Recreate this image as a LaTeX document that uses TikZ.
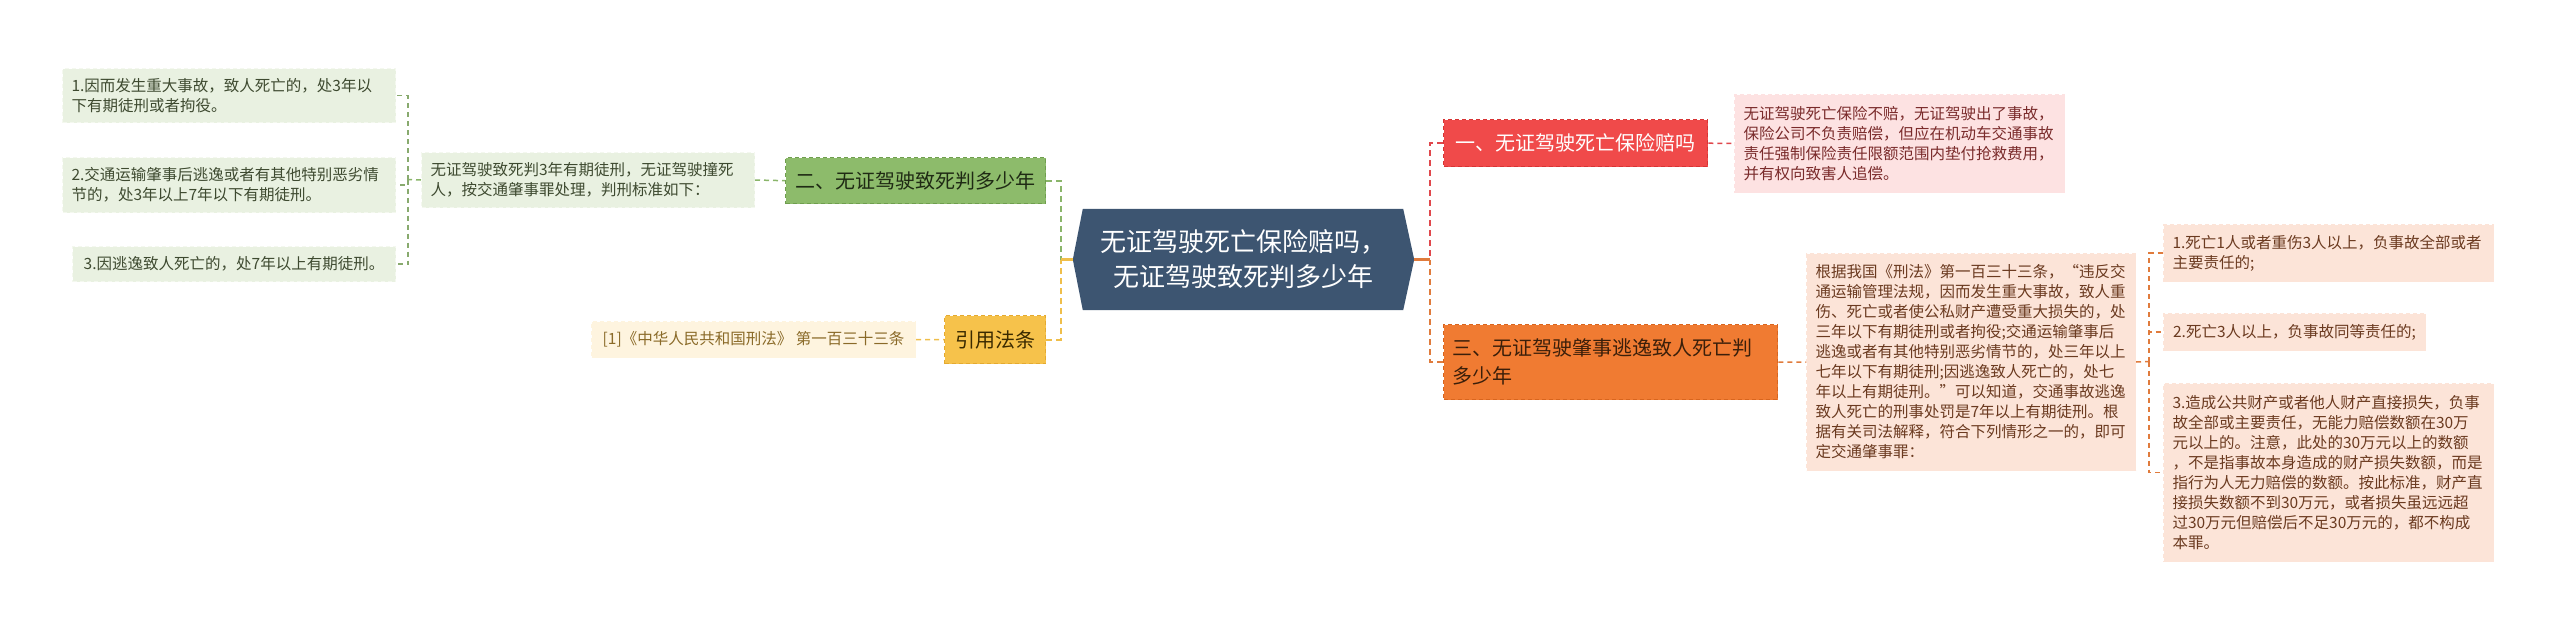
\documentclass[tikz,border=0pt]{standalone}
\usepackage{fontspec}
\setmainfont{Noto Sans CJK SC}
\usetikzlibrary{positioning, backgrounds}
\definecolor{rootbg}{HTML}{3D5571}
\definecolor{gleafbg}{HTML}{E9F1E1}
\definecolor{gleafbd}{HTML}{F4F8EF}
\definecolor{gleaftx}{HTML}{3E4A30}
\definecolor{gnodebg}{HTML}{8DBB6B}
\definecolor{gnodebd}{HTML}{6F9E4E}
\definecolor{gnodetx}{HTML}{1F2A14}
\definecolor{glinec}{HTML}{8AB56A}
\definecolor{ynodebg}{HTML}{F6C24B}
\definecolor{ynodebd}{HTML}{E4AA30}
\definecolor{ynodetx}{HTML}{3A2A00}
\definecolor{yleafbg}{HTML}{FEF4DF}
\definecolor{yleaftx}{HTML}{8A6A28}
\definecolor{ylinec}{HTML}{EFBE4A}
\definecolor{rnodebg}{HTML}{F04A4A}
\definecolor{rnodebd}{HTML}{D83434}
\definecolor{rleafbg}{HTML}{FDE2E2}
\definecolor{rleaftx}{HTML}{7A2B2B}
\definecolor{rlinec}{HTML}{E0474C}
\definecolor{onodebg}{HTML}{F07B32}
\definecolor{onodebd}{HTML}{D8651E}
\definecolor{onodetx}{HTML}{3B1F0A}
\definecolor{oleafbg}{HTML}{FCE4D8}
\definecolor{oleaftx}{HTML}{6B3A20}
\definecolor{olinec}{HTML}{E07B3C}

\begin{document}
\begin{tikzpicture}[x=1pt, y=-1pt,
  box/.style={anchor=north west, inner xsep=9pt, inner ysep=0pt, dash pattern=on 4pt off 3pt, line width=1pt},
  leaf/.style={box, align=left, font=\fontsize{15.5}{20}\selectfont},
  branch/.style={box, align=left, font=\fontsize{20}{28}\selectfont, line width=1.4pt},
  root/.style={minimum width=341pt, minimum height=101pt, inner sep=0pt, align=center, text=white, font=\fontsize{26}{35}\selectfont},
  gleaf/.style={leaf, fill=gleafbg, draw=gleafbd, text=gleaftx},
  gnode/.style={branch, fill=gnodebg, draw=gnodebd, text=gnodetx},
  yleaf/.style={leaf, fill=yleafbg, draw=yleafbg, text=yleaftx},
  ynode/.style={branch, fill=ynodebg, draw=ynodebd, text=ynodetx},
  rleaf/.style={leaf, fill=rleafbg, draw=rleafbg, text=rleaftx},
  rnode/.style={branch, fill=rnodebg, draw=rnodebd, text=white},
  oleaf/.style={leaf, fill=oleafbg, draw=oleafbg, text=oleaftx},
  onode/.style={branch, fill=onodebg, draw=onodebd, text=onodetx},
  trunk/.style={line width=2.4pt, dash pattern=on 6pt off 4pt},
  twig/.style={line width=1.5pt, dash pattern=on 5pt off 4pt}]
\useasboundingbox (0,0) rectangle (2560,627);
% centre
\node[root] (root) at (1243.5,259.5) {无证驾驶死亡保险赔吗，\\无证驾驶致死判多少年};
\begin{scope}[on background layer]
\fill[rootbg] ([xshift=10pt]root.north west) -- ([xshift=-11pt]root.north east) -- (root.east)
  -- ([xshift=-11pt]root.south east) -- ([xshift=10pt]root.south west) -- (root.west) -- cycle;
\end{scope}
\coordinate (lj) at (1061,259.5);
\coordinate (rj) at (1430,259.5);
% left: 二 and 引用法条
\node[gnode, minimum width=260pt, minimum height=46pt, align=center] (g) at (785,157) {二、无证驾驶致死判多少年};
\node[gleaf, text width=315pt, minimum height=55pt] (gtext) at (421,152) {无证驾驶致死判3年有期徒刑，无证驾驶撞死\\人，按交通肇事罪处理，判刑标准如下：};
\node[gleaf, text width=315pt, minimum height=54pt] (g1) at (62,68) {1.因而发生重大事故，致人死亡的，处3年以\\下有期徒刑或者拘役。};
\node[gleaf, text width=315pt, minimum height=55pt] (g2) at (62,157) {2.交通运输肇事后逃逸或者有其他特别恶劣情\\节的，处3年以上7年以下有期徒刑。};
\node[gleaf, minimum width=323pt, minimum height=35pt] (g3) at (72,246) {3.因逃逸致人死亡的，处7年以上有期徒刑。};
\coordinate (lb) at (408,179.5);
\node[ynode, minimum width=101pt, minimum height=48pt, align=center] (y) at (944,315) {引用法条};
\node[yleaf, minimum width=324pt, minimum height=36pt] (ycite) at (591,321) {[1]《中华人民共和国刑法》 第一百三十三条};
% right: 一 and 三
\node[rnode, minimum width=264pt, minimum height=47pt, align=center] (r) at (1443,119) {一、无证驾驶死亡保险赔吗};
\node[rleaf, text width=312pt, minimum height=98pt] (rtext) at (1734,94) {无证驾驶死亡保险不赔，无证驾驶出了事故，\\保险公司不负责赔偿，但应在机动车交通事故\\责任强制保险责任限额范围内垫付抢救费用，\\并有权向致害人追偿。};
\node[onode, text width=316pt, minimum height=75pt] (o) at (1443,324) {三、无证驾驶肇事逃逸致人死亡判\\多少年};
\node[oleaf, text width=311pt, minimum height=217pt] (otext) at (1806,253) {根据我国《刑法》第一百三十三条，“违反交\\通运输管理法规，因而发生重大事故，致人重\\伤、死亡或者使公私财产遭受重大损失的，处\\三年以下有期徒刑或者拘役;交通运输肇事后\\逃逸或者有其他特别恶劣情节的，处三年以上\\七年以下有期徒刑;因逃逸致人死亡的，处七\\年以上有期徒刑。”可以知道，交通事故逃逸\\致人死亡的刑事处罚是7年以上有期徒刑。根\\据有关司法解释，符合下列情形之一的，即可\\定交通肇事罪：};
\node[oleaf, text width=312pt, minimum height=57pt] (o1) at (2163,224) {1.死亡1人或者重伤3人以上，负事故全部或者\\主要责任的;};
\node[oleaf, minimum width=262pt, minimum height=37pt] (o2) at (2163,313) {2.死亡3人以上，负事故同等责任的;};
\node[oleaf, text width=312pt, minimum height=178pt] (o3) at (2163,383) {3.造成公共财产或者他人财产直接损失，负事\\故全部或主要责任，无能力赔偿数额在30万\\元以上的。注意，此处的30万元以上的数额\\，不是指事故本身造成的财产损失数额，而是\\指行为人无力赔偿的数额。按此标准，财产直\\接损失数额不到30万元，或者损失虽远远超\\过30万元但赔偿后不足30万元的，都不构成\\本罪。};
\coordinate (rb) at (2149,361.5);
% connectors
\draw[trunk, glinec] (g.east) -| (lj);
\draw[trunk, ylinec] (y.east) -| (lj);
\draw[ylinec, line width=2.4pt] (root.west) -- (lj);
\draw[trunk, rlinec] (r.west) -| (rj);
\draw[trunk, olinec] (o.west) -| (rj);
\draw[olinec, line width=2.4pt] (root.east) -- (rj);
\draw[twig, glinec] (gtext.east) -- (g.west);
\draw[twig, glinec] (gtext.west) -- (lb);
\foreach \n in {g1,g2,g3} \draw[twig, glinec!80!gray] (lb) |- (\n.east);
\draw[twig, ylinec] (ycite.east) -- (y.west);
\draw[twig, rlinec] (r.east) -- (rtext.west);
\draw[twig, olinec] (o.east) -- (otext.west);
\draw[twig, olinec] (otext.east) -- (rb);
\foreach \n in {o1,o2,o3} \draw[twig, olinec] (rb) |- (\n.west);
\end{tikzpicture}
\end{document}
